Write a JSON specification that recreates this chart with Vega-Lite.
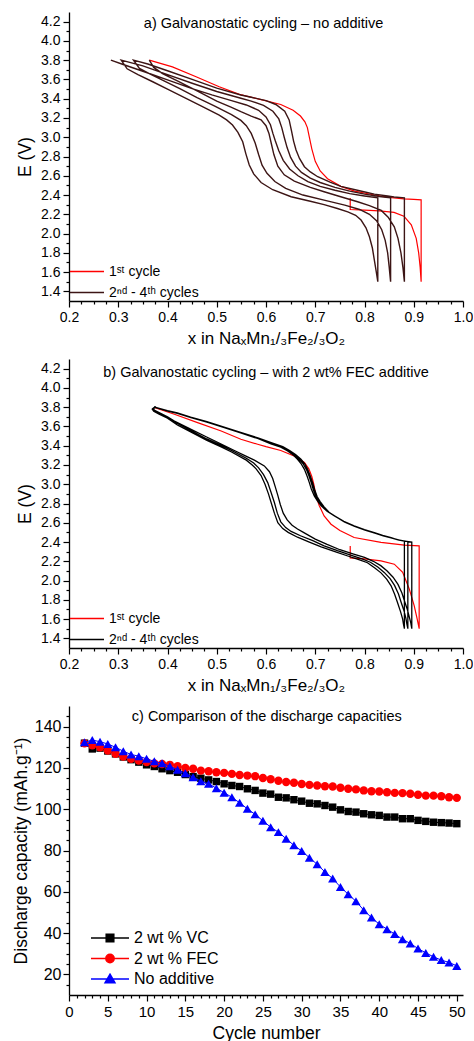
{
"$schema":"https://vega.github.io/schema/vega-lite/v6.json",
"background":"white",
"padding":{"left":12,"top":12,"right":0,"bottom":0},
"autosize":{"type":"pad"},
"bounds":"flush",
"spacing":58,
"datasets":{
"A":[
{"k":"1st","x":0.771,"E":2.37},{"k":"1st","x":0.771,"E":2.25},{"k":"1st","x":0.80,"E":2.243},{"k":"1st","x":0.83,"E":2.235},{"k":"1st","x":0.86,"E":2.22},{"k":"1st","x":0.88,"E":2.18},{"k":"1st","x":0.895,"E":2.09},{"k":"1st","x":0.905,"E":1.95},{"k":"1st","x":0.91,"E":1.80},{"k":"1st","x":0.913,"E":1.65},{"k":"1st","x":0.915,"E":1.50},{"k":"1st","x":0.915,"E":2.35},{"k":"1st","x":0.90,"E":2.355},{"k":"1st","x":0.88,"E":2.36},{"k":"1st","x":0.85,"E":2.375},{"k":"1st","x":0.82,"E":2.40},{"k":"1st","x":0.78,"E":2.44},{"k":"1st","x":0.752,"E":2.49},{"k":"1st","x":0.725,"E":2.57},{"k":"1st","x":0.71,"E":2.65},{"k":"1st","x":0.70,"E":2.75},{"k":"1st","x":0.693,"E":2.88},{"k":"1st","x":0.688,"E":3.0},{"k":"1st","x":0.684,"E":3.10},{"k":"1st","x":0.679,"E":3.16},{"k":"1st","x":0.67,"E":3.22},{"k":"1st","x":0.655,"E":3.28},{"k":"1st","x":0.63,"E":3.34},{"k":"1st","x":0.59,"E":3.39},{"k":"1st","x":0.546,"E":3.445},{"k":"1st","x":0.505,"E":3.524},{"k":"1st","x":0.458,"E":3.628},{"k":"1st","x":0.41,"E":3.73},{"k":"1st","x":0.363,"E":3.80},
{"k":"2-4","x":0.363,"E":3.80},{"k":"2-4","x":0.372,"E":3.725},{"k":"2-4","x":0.39,"E":3.66},{"k":"2-4","x":0.42,"E":3.585},{"k":"2-4","x":0.46,"E":3.48},{"k":"2-4","x":0.50,"E":3.375},{"k":"2-4","x":0.53,"E":3.31},{"k":"2-4","x":0.549,"E":3.265},{"k":"2-4","x":0.57,"E":3.22},{"k":"2-4","x":0.59,"E":3.18},{"k":"2-4","x":0.60,"E":3.12},{"k":"2-4","x":0.606,"E":3.04},{"k":"2-4","x":0.611,"E":2.93},{"k":"2-4","x":0.616,"E":2.82},{"k":"2-4","x":0.624,"E":2.70},{"k":"2-4","x":0.637,"E":2.61},{"k":"2-4","x":0.6575,"E":2.545},{"k":"2-4","x":0.69,"E":2.48},{"k":"2-4","x":0.718,"E":2.434},{"k":"2-4","x":0.75,"E":2.385},{"k":"2-4","x":0.786,"E":2.33},{"k":"2-4","x":0.81,"E":2.29},{"k":"2-4","x":0.834,"E":2.24},{"k":"2-4","x":0.848,"E":2.17},{"k":"2-4","x":0.8605,"E":2.07},{"k":"2-4","x":0.868,"E":1.95},{"k":"2-4","x":0.874,"E":1.80},{"k":"2-4","x":0.878,"E":1.65},{"k":"2-4","x":0.881,"E":1.50},{"k":"2-4","x":0.881,"E":2.37},
{"k":"2-4","x":0.86,"E":2.38},{"k":"2-4","x":0.847,"E":2.39},{"k":"2-4","x":0.82,"E":2.41},{"k":"2-4","x":0.79,"E":2.445},{"k":"2-4","x":0.752,"E":2.49},{"k":"2-4","x":0.73,"E":2.535},{"k":"2-4","x":0.705,"E":2.59},{"k":"2-4","x":0.69,"E":2.64},{"k":"2-4","x":0.678,"E":2.694},{"k":"2-4","x":0.668,"E":2.78},{"k":"2-4","x":0.661,"E":2.867},{"k":"2-4","x":0.656,"E":2.96},{"k":"2-4","x":0.652,"E":3.06},{"k":"2-4","x":0.647,"E":3.18},{"k":"2-4","x":0.638,"E":3.27},{"k":"2-4","x":0.62,"E":3.34},{"k":"2-4","x":0.60,"E":3.38},{"k":"2-4","x":0.57,"E":3.415},{"k":"2-4","x":0.549,"E":3.438},{"k":"2-4","x":0.50,"E":3.51},{"k":"2-4","x":0.45,"E":3.60},{"k":"2-4","x":0.40,"E":3.69},{"k":"2-4","x":0.36,"E":3.76},{"k":"2-4","x":0.331,"E":3.80},
{"k":"2-4","x":0.343,"E":3.715},{"k":"2-4","x":0.365,"E":3.655},{"k":"2-4","x":0.395,"E":3.58},{"k":"2-4","x":0.425,"E":3.505},{"k":"2-4","x":0.46,"E":3.41},{"k":"2-4","x":0.495,"E":3.325},{"k":"2-4","x":0.53,"E":3.235},{"k":"2-4","x":0.549,"E":3.175},{"k":"2-4","x":0.56,"E":3.12},{"k":"2-4","x":0.57,"E":3.04},{"k":"2-4","x":0.578,"E":2.94},{"k":"2-4","x":0.585,"E":2.82},{"k":"2-4","x":0.592,"E":2.71},{"k":"2-4","x":0.602,"E":2.625},{"k":"2-4","x":0.618,"E":2.54},{"k":"2-4","x":0.64,"E":2.47},{"k":"2-4","x":0.675,"E":2.40},{"k":"2-4","x":0.72,"E":2.345},{"k":"2-4","x":0.76,"E":2.295},{"k":"2-4","x":0.79,"E":2.25},{"k":"2-4","x":0.81,"E":2.20},{"k":"2-4","x":0.825,"E":2.13},{"k":"2-4","x":0.835,"E":2.04},{"k":"2-4","x":0.842,"E":1.93},{"k":"2-4","x":0.847,"E":1.80},{"k":"2-4","x":0.85,"E":1.66},{"k":"2-4","x":0.853,"E":1.50},{"k":"2-4","x":0.853,"E":2.37},
{"k":"2-4","x":0.83,"E":2.385},{"k":"2-4","x":0.80,"E":2.41},{"k":"2-4","x":0.77,"E":2.44},{"k":"2-4","x":0.74,"E":2.48},{"k":"2-4","x":0.71,"E":2.53},{"k":"2-4","x":0.69,"E":2.575},{"k":"2-4","x":0.672,"E":2.635},{"k":"2-4","x":0.66,"E":2.70},{"k":"2-4","x":0.65,"E":2.79},{"k":"2-4","x":0.643,"E":2.89},{"k":"2-4","x":0.637,"E":3.0},{"k":"2-4","x":0.632,"E":3.10},{"k":"2-4","x":0.626,"E":3.19},{"k":"2-4","x":0.614,"E":3.27},{"k":"2-4","x":0.595,"E":3.33},{"k":"2-4","x":0.57,"E":3.375},{"k":"2-4","x":0.549,"E":3.405},{"k":"2-4","x":0.50,"E":3.475},{"k":"2-4","x":0.45,"E":3.56},{"k":"2-4","x":0.40,"E":3.65},{"k":"2-4","x":0.35,"E":3.74},{"k":"2-4","x":0.306,"E":3.80},
{"k":"2-4","x":0.318,"E":3.71},{"k":"2-4","x":0.34,"E":3.65},{"k":"2-4","x":0.37,"E":3.576},{"k":"2-4","x":0.40,"E":3.50},{"k":"2-4","x":0.4376,"E":3.404},{"k":"2-4","x":0.47,"E":3.32},{"k":"2-4","x":0.505,"E":3.23},{"k":"2-4","x":0.52,"E":3.18},{"k":"2-4","x":0.532,"E":3.127},{"k":"2-4","x":0.543,"E":3.05},{"k":"2-4","x":0.5527,"E":2.953},{"k":"2-4","x":0.559,"E":2.83},{"k":"2-4","x":0.566,"E":2.711},{"k":"2-4","x":0.575,"E":2.62},{"k":"2-4","x":0.59,"E":2.53},{"k":"2-4","x":0.6136,"E":2.455},{"k":"2-4","x":0.651,"E":2.382},{"k":"2-4","x":0.69,"E":2.335},{"k":"2-4","x":0.718,"E":2.30},{"k":"2-4","x":0.745,"E":2.26},{"k":"2-4","x":0.766,"E":2.226},{"k":"2-4","x":0.782,"E":2.19},{"k":"2-4","x":0.793,"E":2.14},{"k":"2-4","x":0.803,"E":2.06},{"k":"2-4","x":0.81,"E":1.967},{"k":"2-4","x":0.816,"E":1.85},{"k":"2-4","x":0.82,"E":1.725},{"k":"2-4","x":0.824,"E":1.60},{"k":"2-4","x":0.827,"E":1.50},{"k":"2-4","x":0.827,"E":2.37},
{"k":"2-4","x":0.80,"E":2.39},{"k":"2-4","x":0.77,"E":2.415},{"k":"2-4","x":0.74,"E":2.45},{"k":"2-4","x":0.71,"E":2.49},{"k":"2-4","x":0.685,"E":2.54},{"k":"2-4","x":0.665,"E":2.60},{"k":"2-4","x":0.648,"E":2.67},{"k":"2-4","x":0.635,"E":2.76},{"k":"2-4","x":0.626,"E":2.86},{"k":"2-4","x":0.619,"E":2.96},{"k":"2-4","x":0.614,"E":3.04},{"k":"2-4","x":0.609,"E":3.13},{"k":"2-4","x":0.60,"E":3.21},{"k":"2-4","x":0.585,"E":3.28},{"k":"2-4","x":0.56,"E":3.335},{"k":"2-4","x":0.53,"E":3.38},{"k":"2-4","x":0.49,"E":3.44},{"k":"2-4","x":0.45,"E":3.505},{"k":"2-4","x":0.40,"E":3.595},{"k":"2-4","x":0.35,"E":3.685},{"k":"2-4","x":0.31,"E":3.755},{"k":"2-4","x":0.285,"E":3.80}
],
"B":[
{"k":"1st","x":0.771,"E":2.36},{"k":"1st","x":0.771,"E":2.235},{"k":"1st","x":0.80,"E":2.225},{"k":"1st","x":0.8335,"E":2.205},{"k":"1st","x":0.8605,"E":2.17},{"k":"1st","x":0.8775,"E":2.085},{"k":"1st","x":0.891,"E":1.911},{"k":"1st","x":0.901,"E":1.738},{"k":"1st","x":0.907,"E":1.6},{"k":"1st","x":0.911,"E":1.50},{"k":"1st","x":0.911,"E":2.36},{"k":"1st","x":0.881,"E":2.367},{"k":"1st","x":0.8335,"E":2.396},{"k":"1st","x":0.779,"E":2.447},{"k":"1st","x":0.75,"E":2.52},{"k":"1st","x":0.732,"E":2.585},{"k":"1st","x":0.718,"E":2.671},{"k":"1st","x":0.708,"E":2.78},{"k":"1st","x":0.7015,"E":2.879},{"k":"1st","x":0.697,"E":3.0},{"k":"1st","x":0.693,"E":3.08},{"k":"1st","x":0.687,"E":3.16},{"k":"1st","x":0.678,"E":3.225},{"k":"1st","x":0.657,"E":3.294},{"k":"1st","x":0.63,"E":3.35},{"k":"1st","x":0.60,"E":3.39},{"k":"1st","x":0.583,"E":3.415},{"k":"1st","x":0.549,"E":3.467},{"k":"1st","x":0.509,"E":3.553},{"k":"1st","x":0.461,"E":3.64},{"k":"1st","x":0.414,"E":3.726},{"k":"1st","x":0.373,"E":3.796},
{"k":"2-4","x":0.373,"E":3.796},{"k":"2-4","x":0.37,"E":3.785},{"k":"2-4","x":0.373,"E":3.77},{"k":"2-4","x":0.383,"E":3.745},{"k":"2-4","x":0.40,"E":3.70},{"k":"2-4","x":0.414,"E":3.655},{"k":"2-4","x":0.45,"E":3.565},{"k":"2-4","x":0.4816,"E":3.485},{"k":"2-4","x":0.51,"E":3.415},{"k":"2-4","x":0.5357,"E":3.35},{"k":"2-4","x":0.556,"E":3.30},{"k":"2-4","x":0.5763,"E":3.25},{"k":"2-4","x":0.5966,"E":3.19},{"k":"2-4","x":0.607,"E":3.13},{"k":"2-4","x":0.6136,"E":3.06},{"k":"2-4","x":0.619,"E":2.97},{"k":"2-4","x":0.624,"E":2.885},{"k":"2-4","x":0.629,"E":2.79},{"k":"2-4","x":0.635,"E":2.70},{"k":"2-4","x":0.643,"E":2.63},{"k":"2-4","x":0.653,"E":2.575},{"k":"2-4","x":0.664,"E":2.535},{"k":"2-4","x":0.676,"E":2.50},{"k":"2-4","x":0.70,"E":2.43},{"k":"2-4","x":0.724,"E":2.375},{"k":"2-4","x":0.75,"E":2.32},{"k":"2-4","x":0.778,"E":2.275},{"k":"2-4","x":0.80,"E":2.24},{"k":"2-4","x":0.818,"E":2.20},{"k":"2-4","x":0.833,"E":2.155},{"k":"2-4","x":0.846,"E":2.10},{"k":"2-4","x":0.858,"E":2.035},{"k":"2-4","x":0.868,"E":1.96},{"k":"2-4","x":0.876,"E":1.87},{"k":"2-4","x":0.881,"E":1.79},{"k":"2-4","x":0.887,"E":1.70},{"k":"2-4","x":0.891,"E":1.62},{"k":"2-4","x":0.894,"E":1.56},{"k":"2-4","x":0.896,"E":1.50},{"k":"2-4","x":0.896,"E":2.40},
{"k":"2-4","x":0.875,"E":2.415},{"k":"2-4","x":0.856,"E":2.44},{"k":"2-4","x":0.838,"E":2.463},{"k":"2-4","x":0.821,"E":2.492},{"k":"2-4","x":0.801,"E":2.524},{"k":"2-4","x":0.78,"E":2.562},{"k":"2-4","x":0.76,"E":2.606},{"k":"2-4","x":0.743,"E":2.66},{"k":"2-4","x":0.728,"E":2.71},{"k":"2-4","x":0.718,"E":2.765},{"k":"2-4","x":0.71,"E":2.82},{"k":"2-4","x":0.704,"E":2.87},{"k":"2-4","x":0.699,"E":2.94},{"k":"2-4","x":0.695,"E":3.01},{"k":"2-4","x":0.69,"E":3.085},{"k":"2-4","x":0.685,"E":3.15},{"k":"2-4","x":0.679,"E":3.21},{"k":"2-4","x":0.671,"E":3.26},{"k":"2-4","x":0.66,"E":3.308},{"k":"2-4","x":0.648,"E":3.35},{"k":"2-4","x":0.634,"E":3.39},{"k":"2-4","x":0.612,"E":3.43},{"k":"2-4","x":0.585,"E":3.48},{"k":"2-4","x":0.55,"E":3.535},{"k":"2-4","x":0.515,"E":3.592},{"k":"2-4","x":0.48,"E":3.65},{"k":"2-4","x":0.447,"E":3.697},{"k":"2-4","x":0.42,"E":3.74},{"k":"2-4","x":0.40,"E":3.765},{"k":"2-4","x":0.385,"E":3.786},{"k":"2-4","x":0.375,"E":3.80},
{"k":"2-4","x":0.371,"E":3.782},{"k":"2-4","x":0.375,"E":3.762},{"k":"2-4","x":0.385,"E":3.735},{"k":"2-4","x":0.40,"E":3.695},{"k":"2-4","x":0.42,"E":3.63},{"k":"2-4","x":0.45,"E":3.55},{"k":"2-4","x":0.48,"E":3.47},{"k":"2-4","x":0.51,"E":3.40},{"k":"2-4","x":0.53,"E":3.35},{"k":"2-4","x":0.56,"E":3.27},{"k":"2-4","x":0.575,"E":3.22},{"k":"2-4","x":0.585,"E":3.17},{"k":"2-4","x":0.595,"E":3.10},{"k":"2-4","x":0.6035,"E":3.017},{"k":"2-4","x":0.61,"E":2.92},{"k":"2-4","x":0.617,"E":2.81},{"k":"2-4","x":0.623,"E":2.70},{"k":"2-4","x":0.63,"E":2.61},{"k":"2-4","x":0.64,"E":2.55},{"k":"2-4","x":0.651,"E":2.51},{"k":"2-4","x":0.67,"E":2.465},{"k":"2-4","x":0.695,"E":2.415},{"k":"2-4","x":0.718,"E":2.36},{"k":"2-4","x":0.745,"E":2.31},{"k":"2-4","x":0.772,"E":2.265},{"k":"2-4","x":0.795,"E":2.225},{"k":"2-4","x":0.812,"E":2.19},{"k":"2-4","x":0.827,"E":2.14},{"k":"2-4","x":0.84,"E":2.085},{"k":"2-4","x":0.852,"E":2.02},{"k":"2-4","x":0.861,"E":1.95},{"k":"2-4","x":0.869,"E":1.86},{"k":"2-4","x":0.874,"E":1.78},{"k":"2-4","x":0.88,"E":1.69},{"k":"2-4","x":0.884,"E":1.61},{"k":"2-4","x":0.886,"E":1.55},{"k":"2-4","x":0.888,"E":1.50},{"k":"2-4","x":0.888,"E":2.405},
{"k":"2-4","x":0.87,"E":2.42},{"k":"2-4","x":0.854,"E":2.443},{"k":"2-4","x":0.837,"E":2.466},{"k":"2-4","x":0.82,"E":2.495},{"k":"2-4","x":0.80,"E":2.527},{"k":"2-4","x":0.779,"E":2.565},{"k":"2-4","x":0.759,"E":2.61},{"k":"2-4","x":0.741,"E":2.665},{"k":"2-4","x":0.726,"E":2.715},{"k":"2-4","x":0.715,"E":2.77},{"k":"2-4","x":0.707,"E":2.825},{"k":"2-4","x":0.701,"E":2.875},{"k":"2-4","x":0.696,"E":2.945},{"k":"2-4","x":0.692,"E":3.015},{"k":"2-4","x":0.687,"E":3.09},{"k":"2-4","x":0.682,"E":3.155},{"k":"2-4","x":0.675,"E":3.215},{"k":"2-4","x":0.667,"E":3.262},{"k":"2-4","x":0.657,"E":3.31},{"k":"2-4","x":0.646,"E":3.35},{"k":"2-4","x":0.632,"E":3.39},{"k":"2-4","x":0.611,"E":3.425},{"k":"2-4","x":0.584,"E":3.478},{"k":"2-4","x":0.55,"E":3.532},{"k":"2-4","x":0.515,"E":3.59},{"k":"2-4","x":0.48,"E":3.647},{"k":"2-4","x":0.447,"E":3.694},{"k":"2-4","x":0.42,"E":3.737},{"k":"2-4","x":0.40,"E":3.762},{"k":"2-4","x":0.384,"E":3.784},{"k":"2-4","x":0.374,"E":3.80},
{"k":"2-4","x":0.369,"E":3.78},{"k":"2-4","x":0.372,"E":3.758},{"k":"2-4","x":0.383,"E":3.728},{"k":"2-4","x":0.40,"E":3.685},{"k":"2-4","x":0.42,"E":3.615},{"k":"2-4","x":0.45,"E":3.535},{"k":"2-4","x":0.48,"E":3.455},{"k":"2-4","x":0.51,"E":3.385},{"k":"2-4","x":0.53,"E":3.335},{"k":"2-4","x":0.56,"E":3.25},{"k":"2-4","x":0.572,"E":3.20},{"k":"2-4","x":0.58,"E":3.16},{"k":"2-4","x":0.59,"E":3.09},{"k":"2-4","x":0.598,"E":3.0},{"k":"2-4","x":0.605,"E":2.90},{"k":"2-4","x":0.611,"E":2.80},{"k":"2-4","x":0.617,"E":2.70},{"k":"2-4","x":0.624,"E":2.60},{"k":"2-4","x":0.634,"E":2.54},{"k":"2-4","x":0.645,"E":2.50},{"k":"2-4","x":0.664,"E":2.45},{"k":"2-4","x":0.688,"E":2.40},{"k":"2-4","x":0.712,"E":2.35},{"k":"2-4","x":0.74,"E":2.30},{"k":"2-4","x":0.766,"E":2.255},{"k":"2-4","x":0.79,"E":2.215},{"k":"2-4","x":0.806,"E":2.185},{"k":"2-4","x":0.821,"E":2.13},{"k":"2-4","x":0.8335,"E":2.08},{"k":"2-4","x":0.845,"E":2.015},{"k":"2-4","x":0.854,"E":1.946},{"k":"2-4","x":0.861,"E":1.86},{"k":"2-4","x":0.867,"E":1.773},{"k":"2-4","x":0.873,"E":1.68},{"k":"2-4","x":0.8775,"E":1.60},{"k":"2-4","x":0.879,"E":1.55},{"k":"2-4","x":0.881,"E":1.50},{"k":"2-4","x":0.881,"E":2.41},
{"k":"2-4","x":0.866,"E":2.425},{"k":"2-4","x":0.854,"E":2.447},{"k":"2-4","x":0.837,"E":2.47},{"k":"2-4","x":0.82,"E":2.499},{"k":"2-4","x":0.80,"E":2.53},{"k":"2-4","x":0.779,"E":2.568},{"k":"2-4","x":0.758,"E":2.615},{"k":"2-4","x":0.739,"E":2.671},{"k":"2-4","x":0.724,"E":2.72},{"k":"2-4","x":0.712,"E":2.775},{"k":"2-4","x":0.704,"E":2.83},{"k":"2-4","x":0.698,"E":2.879},{"k":"2-4","x":0.692,"E":2.95},{"k":"2-4","x":0.688,"E":3.017},{"k":"2-4","x":0.683,"E":3.09},{"k":"2-4","x":0.678,"E":3.155},{"k":"2-4","x":0.671,"E":3.215},{"k":"2-4","x":0.664,"E":3.259},{"k":"2-4","x":0.655,"E":3.305},{"k":"2-4","x":0.644,"E":3.345},{"k":"2-4","x":0.63,"E":3.385},{"k":"2-4","x":0.61,"E":3.42},{"k":"2-4","x":0.583,"E":3.475},{"k":"2-4","x":0.55,"E":3.53},{"k":"2-4","x":0.5153,"E":3.588},{"k":"2-4","x":0.48,"E":3.645},{"k":"2-4","x":0.4477,"E":3.692},{"k":"2-4","x":0.42,"E":3.735},{"k":"2-4","x":0.4004,"E":3.76},{"k":"2-4","x":0.385,"E":3.782},{"k":"2-4","x":0.373,"E":3.80}
],
"C":[
{"n":2,"VC":132.0,"FEC":131.9,"NA":132.4},{"n":3,"VC":129.2,"FEC":131.0,"NA":133.5},{"n":4,"VC":129.6,"FEC":130.0,"NA":132.7},{"n":5,"VC":128.2,"FEC":128.4,"NA":131.6},{"n":6,"VC":126.8,"FEC":126.8,"NA":130.0},{"n":7,"VC":125.3,"FEC":125.5,"NA":128.1},{"n":8,"VC":124.0,"FEC":124.4,"NA":126.5},{"n":9,"VC":122.8,"FEC":123.6,"NA":125.7},{"n":10,"VC":121.5,"FEC":122.9,"NA":124.4},{"n":11,"VC":120.7,"FEC":122.2,"NA":123.2},{"n":12,"VC":119.6,"FEC":121.9,"NA":122.3},{"n":13,"VC":118.7,"FEC":121.5,"NA":120.8},{"n":14,"VC":117.9,"FEC":120.8,"NA":119.1},{"n":15,"VC":116.8,"FEC":120.0,"NA":117.4},{"n":16,"VC":115.8,"FEC":119.6,"NA":115.5},{"n":17,"VC":115.0,"FEC":118.7,"NA":113.6},{"n":18,"VC":114.2,"FEC":118.4,"NA":112.3},{"n":19,"VC":113.4,"FEC":117.9,"NA":110.2},{"n":20,"VC":112.3,"FEC":117.6,"NA":108.0},{"n":21,"VC":111.5,"FEC":117.1,"NA":105.8},{"n":22,"VC":111.0,"FEC":116.6,"NA":103.1},{"n":23,"VC":109.9,"FEC":116.3,"NA":100.2},{"n":24,"VC":109.1,"FEC":116.0,"NA":97.5},{"n":25,"VC":107.8,"FEC":115.1,"NA":94.4},{"n":26,"VC":107.3,"FEC":114.5,"NA":91.3},{"n":27,"VC":105.8,"FEC":113.8,"NA":88.9},{"n":28,"VC":105.5,"FEC":113.2,"NA":85.7},{"n":29,"VC":104.6,"FEC":112.8,"NA":82.5},{"n":30,"VC":103.9,"FEC":112.2,"NA":79.8},{"n":31,"VC":102.9,"FEC":111.8,"NA":76.5},{"n":32,"VC":102.6,"FEC":111.5,"NA":73.3},{"n":33,"VC":101.8,"FEC":111.1,"NA":69.6},{"n":34,"VC":101.0,"FEC":111.0,"NA":66.4},{"n":35,"VC":99.7,"FEC":110.4,"NA":62.3},{"n":36,"VC":98.9,"FEC":109.9,"NA":58.8},{"n":37,"VC":98.6,"FEC":109.6,"NA":55.4},{"n":38,"VC":97.8,"FEC":109.1,"NA":51.1},{"n":39,"VC":97.3,"FEC":108.7,"NA":47.5},{"n":40,"VC":97.0,"FEC":108.6,"NA":44.3},{"n":41,"VC":96.2,"FEC":108.2,"NA":41.9},{"n":42,"VC":96.2,"FEC":107.9,"NA":39.5},{"n":43,"VC":95.4,"FEC":107.8,"NA":37.0},{"n":44,"VC":95.4,"FEC":107.5,"NA":35.0},{"n":45,"VC":94.6,"FEC":107.0,"NA":32.5},{"n":46,"VC":94.1,"FEC":106.6,"NA":30.4},{"n":47,"VC":93.7,"FEC":106.6,"NA":28.5},{"n":48,"VC":93.5,"FEC":106.3,"NA":26.9},{"n":49,"VC":93.3,"FEC":105.8,"NA":25.8},{"n":50,"VC":93.0,"FEC":105.5,"NA":24.1}
],
"T":[{"panel":"a","label":"a) Galvanostatic cycling – no additive"},{"panel":"b","label":"b) Galvanostatic cycling – with 2 wt% FEC additive"},{"panel":"c","label":"c) Comparison of the discharge capacities"}]
},
"vconcat":[
{
"width":394,"height":289,
"data":{"name":"A"},
"layer":[
{"transform":[{"filter":"datum.k == '1st'"}],
"mark":{"type":"line","strokeWidth":1.2},
"encoding":{
"x":{"field":"x","type":"quantitative","scale":{"domain":[0.2,1.0],"nice":false,"zero":false},"axis":{"values":[0.2,0.3,0.4,0.5,0.6,0.7,0.8,0.9,1.0],"format":".1f","title":"x in NaₓMn₁/₃Fe₂/₃O₂","labelFontSize":14,"titleFontSize":17,"tickSize":6,"labelPadding":3,"titlePadding":6,"labelFlush":false,"labelOverlap":false}},
"y":{"field":"E","type":"quantitative","scale":{"domain":[1.3,4.3],"nice":false,"zero":false},"axis":{"values":[1.4,1.6,1.8,2.0,2.2,2.4,2.6,2.8,3.0,3.2,3.4,3.6,3.8,4.0,4.2],"format":".1f","title":"E (V)","labelFontSize":14,"titleFontSize":17.5,"tickSize":6,"labelPadding":3,"titlePadding":6,"labelOverlap":false}},
"color":{"field":"k","type":"nominal","scale":{"domain":["1st","2-4"],"range":["#ff0000","#3c1515"]},"legend":{"orient":"none","legendX":0,"legendY":251,"title":null,"symbolType":"stroke","symbolSize":1156,"symbolStrokeWidth":1.5,"labelFontSize":14,"labelOffset":4,"clipHeight":17,"rowPadding":4,"padding":0,"labelExpr":"datum.label == '1st' ? '1ˢᵗ cycle' : '2ⁿᵈ - 4ᵗʰ cycles'"}},
"order":{"value":null}
}},
{"transform":[{"filter":"datum.k != '1st'"}],
"mark":{"type":"line","strokeWidth":1.4,"color":"#3c1515"},
"encoding":{
"x":{"field":"x","type":"quantitative","axis":{"orient":"bottom","values":[0.225,0.25,0.275,0.325,0.35,0.375,0.425,0.45,0.475,0.525,0.55,0.575,0.625,0.65,0.675,0.725,0.75,0.775,0.825,0.85,0.875,0.925,0.95,0.975],"labels":false,"title":null,"domain":false,"tickSize":3}},
"y":{"field":"E","type":"quantitative","axis":{"orient":"left","values":[1.5,1.7,1.9,2.1,2.3,2.5,2.7,2.9,3.1,3.3,3.5,3.7,3.9,4.1],"labels":false,"title":null,"domain":false,"tickSize":3}},
"order":{"value":null}
}},
{"data":{"name":"T"},"transform":[{"filter":"datum.panel == 'a'"}],
"mark":{"type":"text","fontSize":14.5,"baseline":"alphabetic","align":"center","color":"#000000"},
"encoding":{
"x":{"datum":0.595,"type":"quantitative","axis":null},
"y":{"datum":4.13,"type":"quantitative","axis":null},
"text":{"field":"label"}
}}
],
"resolve":{"axis":{"x":"independent","y":"independent"}}
},
{
"width":394,"height":289,
"data":{"name":"B"},
"layer":[
{"transform":[{"filter":"datum.k == '1st'"}],
"mark":{"type":"line","strokeWidth":1.2},
"encoding":{
"x":{"field":"x","type":"quantitative","scale":{"domain":[0.2,1.0],"nice":false,"zero":false},"axis":{"values":[0.2,0.3,0.4,0.5,0.6,0.7,0.8,0.9,1.0],"format":".1f","title":"x in NaₓMn₁/₃Fe₂/₃O₂","labelFontSize":14,"titleFontSize":17,"tickSize":6,"labelPadding":3,"titlePadding":6,"labelFlush":false,"labelOverlap":false}},
"y":{"field":"E","type":"quantitative","scale":{"domain":[1.3,4.3],"nice":false,"zero":false},"axis":{"values":[1.4,1.6,1.8,2.0,2.2,2.4,2.6,2.8,3.0,3.2,3.4,3.6,3.8,4.0,4.2],"format":".1f","title":"E (V)","labelFontSize":14,"titleFontSize":17.5,"tickSize":6,"labelPadding":3,"titlePadding":6,"labelOverlap":false}},
"color":{"field":"k","type":"nominal","scale":{"domain":["1st","2-4"],"range":["#ff0000","#000000"]},"legend":{"orient":"none","legendX":0,"legendY":251,"title":null,"symbolType":"stroke","symbolSize":1156,"symbolStrokeWidth":1.5,"labelFontSize":14,"labelOffset":4,"clipHeight":17,"rowPadding":4,"padding":0,"labelExpr":"datum.label == '1st' ? '1ˢᵗ cycle' : '2ⁿᵈ - 4ᵗʰ cycles'"}},
"order":{"value":null}
}},
{"transform":[{"filter":"datum.k != '1st'"}],
"mark":{"type":"line","strokeWidth":1.3,"color":"#000000"},
"encoding":{
"x":{"field":"x","type":"quantitative","axis":{"orient":"bottom","values":[0.225,0.25,0.275,0.325,0.35,0.375,0.425,0.45,0.475,0.525,0.55,0.575,0.625,0.65,0.675,0.725,0.75,0.775,0.825,0.85,0.875,0.925,0.95,0.975],"labels":false,"title":null,"domain":false,"tickSize":3}},
"y":{"field":"E","type":"quantitative","axis":{"orient":"left","values":[1.5,1.7,1.9,2.1,2.3,2.5,2.7,2.9,3.1,3.3,3.5,3.7,3.9,4.1],"labels":false,"title":null,"domain":false,"tickSize":3}},
"order":{"value":null}
}},
{"data":{"name":"T"},"transform":[{"filter":"datum.panel == 'b'"}],
"mark":{"type":"text","fontSize":14.5,"baseline":"alphabetic","align":"center","color":"#000000"},
"encoding":{
"x":{"datum":0.6,"type":"quantitative","axis":null},
"y":{"datum":4.11,"type":"quantitative","axis":null},
"text":{"field":"label"}
}}
],
"resolve":{"axis":{"x":"independent","y":"independent"}}
},
{
"width":394,"height":289,
"data":{"name":"C"},
"layer":[
{"mark":{"type":"line","strokeWidth":1,"point":{"shape":"square","size":55,"filled":true}},
"encoding":{
"x":{"field":"n","type":"quantitative","scale":{"domain":[0,50.8],"nice":false,"zero":false},"axis":{"values":[0,5,10,15,20,25,30,35,40,45,50],"format":"d","title":"Cycle number","labelFontSize":15,"titleFontSize":17.5,"tickSize":6,"labelPadding":3,"titlePadding":5,"labelFlush":false,"labelOverlap":false}},
"y":{"field":"VC","type":"quantitative","scale":{"domain":[10,150],"nice":false,"zero":false},"axis":{"values":[20,40,60,80,100,120,140],"title":"Discharge capacity (mAh.g⁻¹)","labelFontSize":16,"titleFontSize":17.5,"tickSize":6,"labelPadding":2,"titlePadding":4,"labelOverlap":false}},
"color":{"datum":"2 wt % VC","scale":{"domain":["2 wt % VC","2 wt % FEC","No additive"],"range":["#000000","#ff0000","#0000ff"]},"legend":{"orient":"none","legendX":21,"legendY":222,"title":null,"symbolSize":1444,"labelFontSize":16,"labelOffset":4,"clipHeight":20,"rowPadding":0.5,"padding":0,
"encode":{"symbols":{"update":{
"shape":{"signal":"datum.value == '2 wt % VC' ? 'M-1,0H1M-0.2,-0.2H0.2V0.2H-0.2Z' : datum.value == '2 wt % FEC' ? 'M-1,0H1M-0.22,0A0.22,0.22 0 1,0 0.22,0A0.22,0.22 0 1,0 -0.22,0Z' : 'M-1,0H1M0,-0.25L0.26,0.2L-0.26,0.2Z'"},
"fill":{"signal":"datum.value == '2 wt % VC' ? '#000000' : datum.value == '2 wt % FEC' ? '#ff0000' : '#0000ff'"},
"stroke":{"signal":"datum.value == '2 wt % VC' ? '#000000' : datum.value == '2 wt % FEC' ? '#ff0000' : '#0000ff'"},
"strokeWidth":{"value":1.5},
"fillOpacity":{"value":1},
"opacity":{"value":1}
}}}}}
}},
{"mark":{"type":"line","strokeWidth":1,"point":{"shape":"circle","size":70,"filled":true}},
"encoding":{
"x":{"field":"n","type":"quantitative","axis":{"orient":"bottom","values":[1,2,3,4,6,7,8,9,11,12,13,14,16,17,18,19,21,22,23,24,26,27,28,29,31,32,33,34,36,37,38,39,41,42,43,44,46,47,48,49],"labels":false,"title":null,"domain":false,"tickSize":3}},
"y":{"field":"FEC","type":"quantitative","axis":{"orient":"left","values":[15,25,30,35,45,50,55,65,70,75,85,90,95,105,110,115,125,130,135,145],"labels":false,"title":null,"domain":false,"tickSize":3}},
"color":{"datum":"2 wt % FEC"}
}},
{"mark":{"type":"line","strokeWidth":1,"point":{"shape":"triangle-up","size":85,"filled":true}},
"encoding":{
"x":{"field":"n","type":"quantitative","axis":null},
"y":{"field":"NA","type":"quantitative","axis":null},
"color":{"datum":"No additive"}
}},
{"data":{"name":"T"},"transform":[{"filter":"datum.panel == 'c'"}],
"mark":{"type":"text","fontSize":14.5,"baseline":"alphabetic","align":"center","color":"#000000"},
"encoding":{
"x":{"datum":25.5,"type":"quantitative","axis":null},
"y":{"datum":142.9,"type":"quantitative","axis":null},
"text":{"field":"label"}
}}
],
"resolve":{"axis":{"x":"independent","y":"independent"}}
}
],
"resolve":{"scale":{"color":"independent"},"legend":{"color":"independent"}},
"config":{
"font":"Liberation Sans",
"view":{"stroke":null},
"axis":{"grid":false,"domainColor":"#000000","domainWidth":1.3,"tickColor":"#000000","tickWidth":1.2,"labelColor":"#000000","titleColor":"#000000","titleFontWeight":"normal","labelFont":"Liberation Sans","titleFont":"Liberation Sans"},
"legend":{"labelFont":"Liberation Sans","labelColor":"#000000"},
"text":{"font":"Liberation Sans"}
}
}
